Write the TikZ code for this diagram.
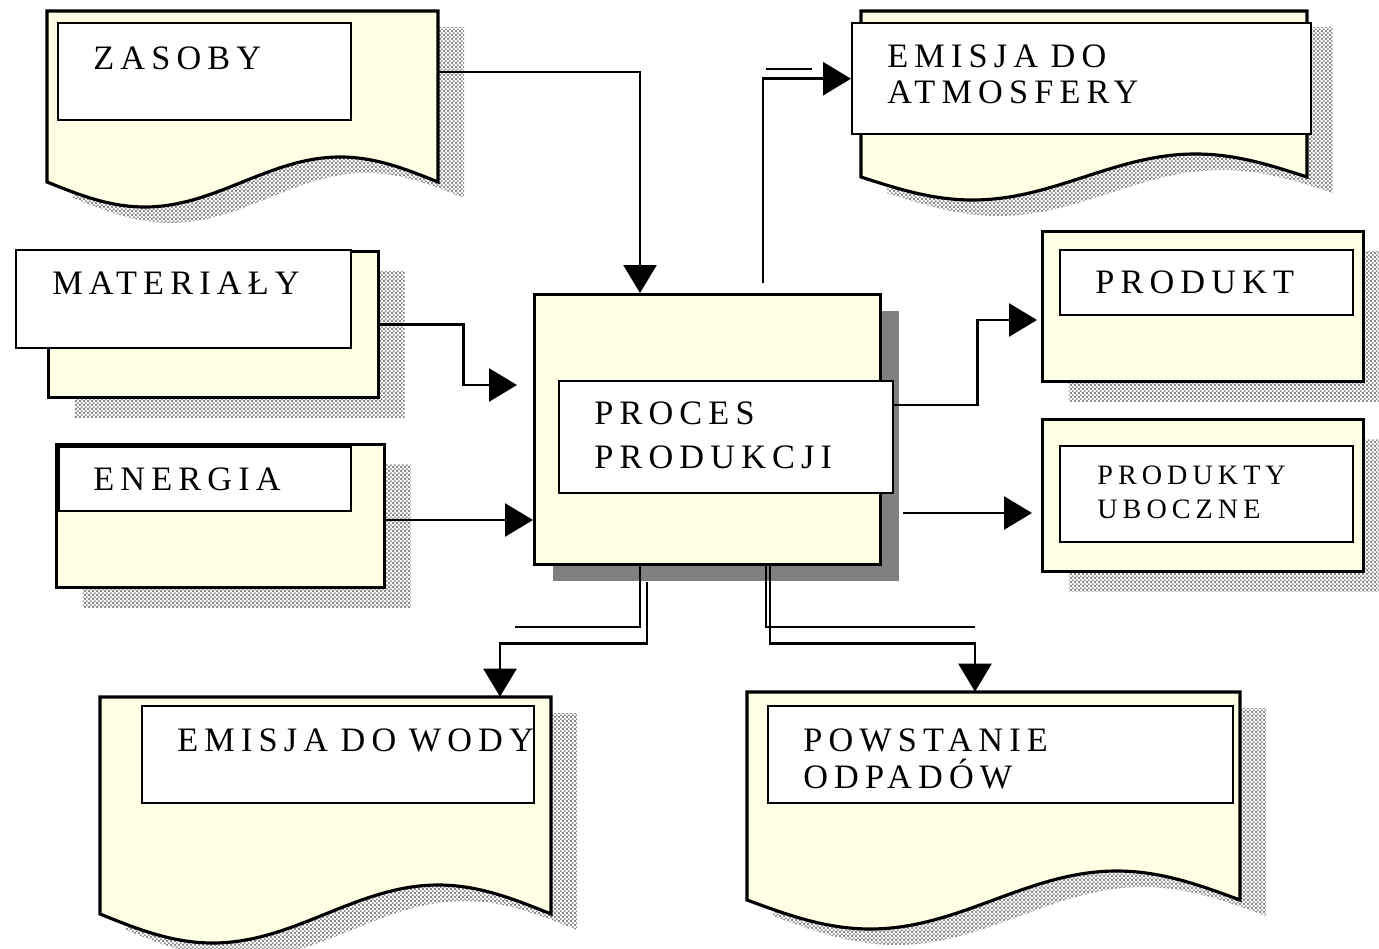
\documentclass[tikz,border=0pt]{standalone}
\usepackage{fontspec}
\setmainfont{Liberation Serif}
\newfontfamily\boxfont[LetterSpace=18, WordSpace=0.85]{Liberation Serif}
\usetikzlibrary{arrows.meta, patterns, fit, shadows}

\definecolor{papercol}{RGB}{255,255,229}
\definecolor{shadowgray}{RGB}{128,128,128}

% small grey squares for the drop shadows
\pgfdeclarepatternformonly{finechecker}{\pgfqpoint{0pt}{0pt}}{\pgfqpoint{2.4pt}{2.4pt}}{\pgfqpoint{2.4pt}{2.4pt}}{%
  \pgfpathrectangle{\pgfqpoint{0pt}{0pt}}{\pgfqpoint{1.2pt}{1.2pt}}%
  \pgfpathrectangle{\pgfqpoint{1.2pt}{1.2pt}}{\pgfqpoint{1.2pt}{1.2pt}}%
  \pgfusepath{fill}}

\tikzset{
  checkshadow/.style={pattern=finechecker, pattern color=gray!90},
  paperbox/.style={draw, fill=papercol, line width=1.8pt}
}

% document sheet with wavy lower edge: name, x1, y1, x2, y-base, amplitude
\newcommand{\docpaper}[6]{%
  \pgfmathsetmacro\dpa{#2+(#4-#2)/4}%
  \pgfmathsetmacro\dpb{#2+(#4-#2)/2}%
  \pgfmathsetmacro\dpc{#2+3*(#4-#2)/4}%
  \path[checkshadow, shift={(26,16)}] (#2,#3) -- (#2,#5) sin (\dpa,#5+#6) cos (\dpb,#5)
    sin (\dpc,#5-#6) cos (#4,#5) -- (#4,#3) -- cycle;
  \path[paperbox] (#2,#3) -- (#2,#5) sin (\dpa,#5+#6) cos (\dpb,#5)
    sin (\dpc,#5-#6) cos (#4,#5) -- (#4,#3) -- cycle;
  \node[fit={(#2,#3) (#4,#5)}, inner sep=0pt] (#1) {};
}

\begin{document}
\begin{tikzpicture}[x=0.02cm, y=-0.02cm,
  sheet/.style={paperbox, anchor=north west, inner sep=0pt,
    general shadow={checkshadow, shadow xshift=0.52cm, shadow yshift=-0.4cm}},
  tagbox/.style={draw, fill=white, line width=1.4pt, anchor=north west, inner sep=0pt},
  txt/.style={anchor=base west, inner sep=0pt, align=left,
    font=\boxfont\fontsize{19.5pt}{20.5pt}\selectfont},
  arrow/.style={line width=1.6pt, -{Triangle[length=0.56cm, width=0.66cm]}},
  stub/.style={line width=1.2pt}
]
  \useasboundingbox (0,0) rectangle (1379,949);

  % documents
  \docpaper{zasoby}{47}{11}{438}{182}{25}
  \node[tagbox, minimum width=5.86cm, minimum height=1.94cm] (zasobybox) at (57,22) {};
  \node[txt] (zasobytxt) at ([shift={(36,48)}]zasobybox.north west) {ZASOBY};

  \docpaper{atmosfera}{861}{11}{1307}{177}{23}
  \node[tagbox, minimum width=9.18cm, minimum height=2.22cm] (atmbox) at (851,22) {};
  \node[txt] (atmtxt) at ([shift={(36,82)}]atmbox.north west) {EMISJA DO\\ATMOSFERY};

  \docpaper{wody}{100}{697}{551}{914}{29}
  \node[tagbox, minimum width=7.84cm, minimum height=1.94cm] (wodybox) at (141,705) {};
  \node[txt] (wodytxt) at ([shift={(36,46)}]wodybox.north west) {EMISJA DO WODY};

  \docpaper{odpady}{747}{692}{1240}{900}{29}
  \node[tagbox, minimum width=9.30cm, minimum height=1.94cm] (odpadybox) at (767,705) {};
  \node[txt] (odpadytxt) at ([shift={(36,83)}]odpadybox.north west) {POWSTANIE\\[0.5pt]ODPADÓW};

  % inputs
  \node[sheet, minimum width=6.6cm, minimum height=2.92cm] (materialy) at (47,250) {};
  \node[tagbox, minimum width=6.7cm, minimum height=1.96cm] (materialybox) at (15,249) {};
  \node[txt] (materialytxt) at ([shift={(37,46)}]materialybox.north west) {MATERIAŁY};

  \node[sheet, minimum width=6.56cm, minimum height=2.86cm] (energia) at (55,443) {};
  \node[tagbox, minimum width=5.84cm, minimum height=1.28cm] (energiabox) at (58,446) {};
  \node[txt] (energiatxt) at ([shift={(35,44)}]energiabox.north west) {ENERGIA};

  % process
  \node[paperbox, anchor=north west, inner sep=0pt, minimum width=6.92cm, minimum height=5.4cm,
    general shadow={fill=shadowgray, shadow xshift=0.36cm, shadow yshift=-0.32cm}] (proces) at (533,293) {};
  \node[tagbox, minimum width=6.68cm, minimum height=2.24cm] (procesbox) at (558,380) {};
  \node[txt] (procestxt) at ([shift={(36,88)}]procesbox.north west) {PROCES\\[4.5pt]PRODUKCJI};

  % outputs
  \node[sheet, minimum width=6.42cm, minimum height=3.0cm] (produkt) at (1041,230) {};
  \node[tagbox, minimum width=5.86cm, minimum height=1.3cm] (produktbox) at (1059,249) {};
  \node[txt] (produkttxt) at ([shift={(36,45)}]produktbox.north west) {PRODUKT};

  \node[sheet, minimum width=6.42cm, minimum height=3.04cm] (uboczne) at (1041,418) {};
  \node[tagbox, minimum width=5.86cm, minimum height=1.92cm] (ubocznebox) at (1059,445) {};
  \node[txt, font=\boxfont\fontsize{16pt}{19.3pt}\selectfont] (ubocznetxt)
    at ([shift={(38,73)}]ubocznebox.north west) {PRODUKTY\\UBOCZNE};

  % flows
  \draw[arrow] (zasoby.east |- 0,72) -| (proces.north -| 640,0);
  \draw[arrow, shorten <=0.2cm] (proces.north -| 763,0) |- (atmbox.west);
  \draw[stub] (766,69) -- (812,69);
  \draw[arrow, shorten >=0.32cm] (materialy.east) -- ++(83,0) |- (proces.west |- 0,385);
  \draw[arrow] (energia.east |- 0,520) -- (proces.west |- 0,520);
  \draw[arrow, shorten >=0.08cm] (procesbox.east |- 0,405) -- ++(83,0) |- (produkt.west |- 0,320);
  \draw[arrow, shorten <=0.42cm, shorten >=0.18cm] (proces.east |- 0,513) -- (uboczne.west |- 0,513);
  \draw[stub] (proces.south -| 640,0) |- (515,627);
  \draw[arrow, shorten <=0.32cm] (proces.south -| 647,0) -- ++(0,77) -| (wody.north -| 500,0);
  \draw[stub] (proces.south -| 766,0) |- (975,627);
  \draw[arrow] (proces.south -| 770,0) -- ++(0,77) -| (odpady.north -| 975,0);
\end{tikzpicture}
\end{document}
